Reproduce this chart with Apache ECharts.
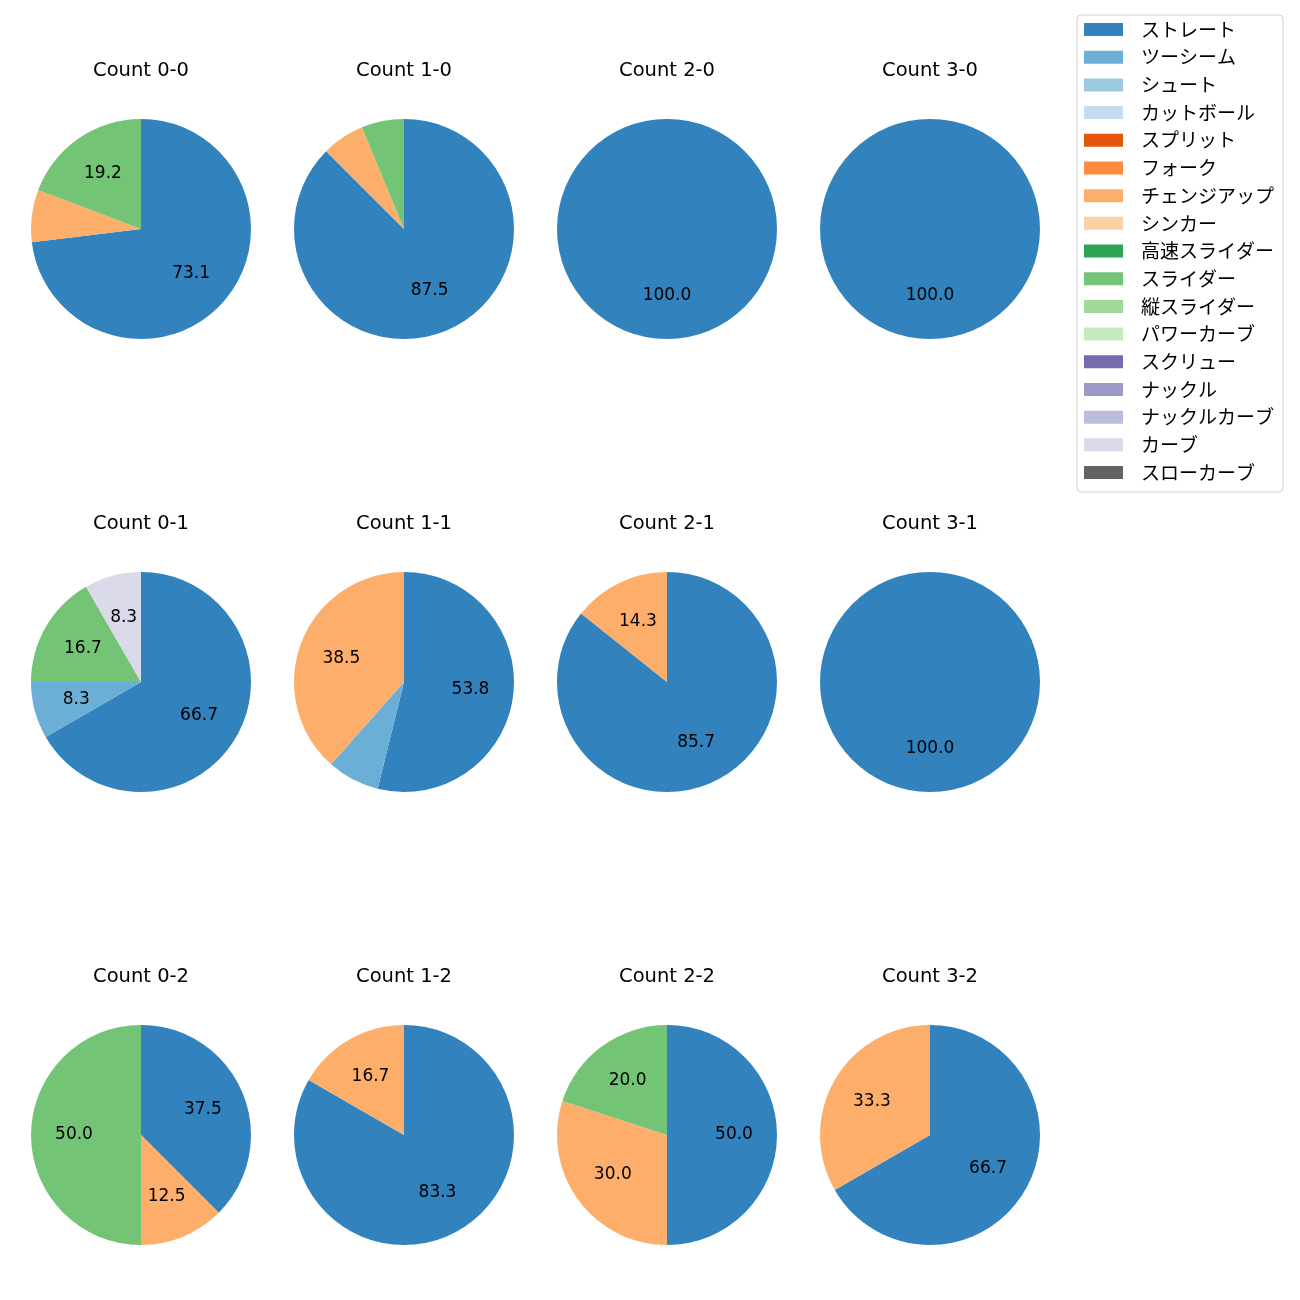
<!DOCTYPE html>
<html><head><meta charset="utf-8">
<script src="https://cdn.jsdelivr.net/npm/echarts@6/dist/echarts.min.js"></script>
<style>html,body{margin:0;padding:0;background:#fff}#c{width:1300px;height:1300px}</style>
</head><body><div id="c"></div>
<script>
const pitchTypes = ['ストレート','ツーシーム','シュート','カットボール','スプリット','フォーク','チェンジアップ','シンカー','高速スライダー','スライダー','縦スライダー','パワーカーブ','スクリュー','ナックル','ナックルカーブ','カーブ','スローカーブ'];
const pitchColors = ['#3182bd','#6baed6','#9ecae1','#c6dbef','#e6550d','#fd8d3c','#fdae6b','#fdd0a2','#31a354','#74c476','#a1d99b','#c7e9c0','#756bb1','#9e9ac8','#bcbddc','#dadaeb','#636363'];
const countLabels = ['0-0','1-0','2-0','3-0','0-1','1-1','2-1','3-1','0-2','1-2','2-2','3-2'];
// pitch counts per ball-strike count
const straight = [19,14,4,2,8,7,6,3,3,5,5,2];
const twoSeam  = [0,0,0,0,1,1,0,0,0,0,0,0];
const changeup = [2,1,0,0,0,5,1,0,1,1,3,1];
const slider   = [5,1,0,0,2,0,0,0,4,0,2,0];
const curve    = [0,0,0,0,1,0,0,0,0,0,0,0];

const valuesByType = {'ストレート':straight,'ツーシーム':twoSeam,'チェンジアップ':changeup,'スライダー':slider,'カーブ':curve};

const LATIN = 'DejaVu Sans';
const CJK = 'Noto Sans CJK JP';
const colX = [141,404,667,930];
const rowY = [229,682,1135];
const R = 110;
const LABEL_R = 64;
const LABEL_MIN = 8;

const titles = [];
const series = [];
countLabels.forEach((c, i) => {
  const cx = colX[i % 4], cy = rowY[Math.floor(i / 4)];
  titles.push({text: 'Count ' + c, left: cx, top: cy - 169, textAlign: 'center', padding: 0,
    textStyle: {fontFamily: LATIN, fontSize: 19.5, fontWeight: 'normal', color: '#000', lineHeight: 22}});
  const vals = pitchTypes.map(t => valuesByType[t] ? valuesByType[t][i] : 0);
  const total = vals.reduce((a, b) => a + b, 0);
  series.push({
    type: 'pie', center: [cx, cy], radius: [0, R], startAngle: 90, clockwise: true,
    silent: true, animation: false, label: {show: false}, labelLine: {show: false},
    emphasis: {disabled: true},
    data: pitchTypes.map((t, k) => ({name: t, value: vals[k], itemStyle: {color: pitchColors[k]}}))
  });
  // label overlay: transparent pie of radius 2*LABEL_R so inside labels sit at LABEL_R
  series.push({
    type: 'pie', center: [cx, cy], radius: [0, LABEL_R * 2], startAngle: 90, clockwise: true,
    silent: true, animation: false, labelLine: {show: false}, emphasis: {disabled: true},
    itemStyle: {color: 'rgba(0,0,0,0)'},
    label: {show: true, position: 'inside', color: '#000', fontFamily: LATIN, fontSize: 17,
      formatter: p => { const pct = p.value / total * 100; return pct >= LABEL_MIN ? pct.toFixed(1) : ''; }},
    data: vals.map(v => ({value: v}))
  });
});

const chart = echarts.init(document.getElementById('c'), null, {renderer: 'canvas'});
chart.setOption({
  backgroundColor: '#fff',
  animation: false,
  title: titles,
  legend: {
    orient: 'vertical', left: 1077, top: 15,
    data: pitchTypes.map((t, k) => ({name: t, itemStyle: {color: pitchColors[k]}})),
    itemWidth: 39, itemHeight: 13, itemGap: 8.69, icon: 'rect',
    padding: [5, 9, 10, 7],
    borderColor: '#d0d0d0', borderWidth: 1, borderRadius: 4,
    selectedMode: false,
    textStyle: {fontFamily: CJK, fontSize: 19, color: '#000', lineHeight: 19, padding: [0, 0, 0, 13]}
  },
  series: series
});
</script></body></html>
